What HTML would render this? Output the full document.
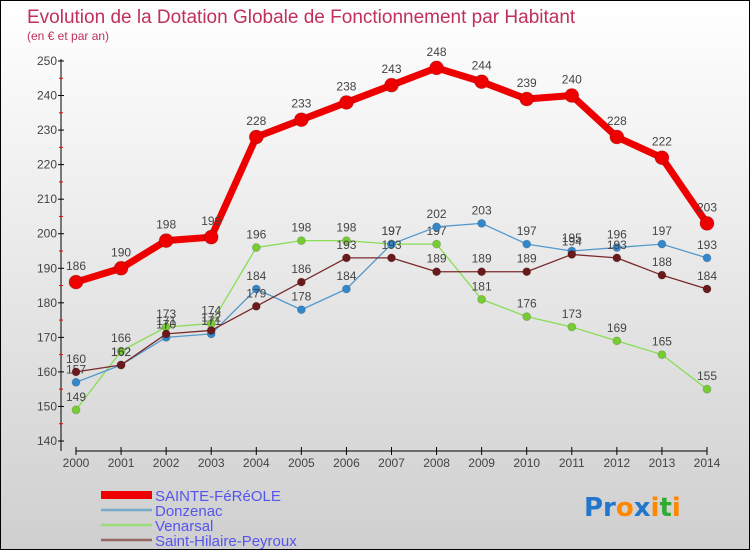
<!DOCTYPE html>
<html><head><meta charset="utf-8"><style>
html,body{margin:0;padding:0;}
body{width:750px;height:550px;overflow:hidden;font-family:"Liberation Sans",sans-serif;}
#wrap{position:relative;width:748px;height:548px;border:1px solid #000;background:linear-gradient(#ffffff 0%,#eaeaea 45%,#cfcfcf 100%);}
svg{position:absolute;left:0;top:0;}
</style></head><body>
<div id="wrap">
<svg id="chart" width="750" height="550"></svg>
</div>
<script>
const years=[2000,2001,2002,2003,2004,2005,2006,2007,2008,2009,2010,2011,2012,2013,2014];
const yTicks=[140,150,160,170,180,190,200,210,220,230,240,250];
const sainte=[186,190,198,199,228,233,238,243,248,244,239,240,228,222,203];
const donzenac=[157,162,170,171,184,178,184,197,202,203,197,195,196,197,193];
const venarsal=[149,166,173,174,196,198,198,197,197,181,176,173,169,165,155];
const shp=[160,162,171,172,179,186,193,193,189,189,189,194,193,188,184];
const names=["SAINTE-FéRéOLE","Donzenac","Venarsal","Saint-Hilaire-Peyroux"];

const NS="http://www.w3.org/2000/svg";
const svg=document.getElementById('chart');
const X=i=>75+i*(706-75)/(years.length-1);
const Y=v=>60+(250-v)*(440-60)/(250-140);
function el(t,a,p){const e=document.createElementNS(NS,t);for(const k in a)e.setAttribute(k,a[k]);(p||svg).appendChild(e);return e;}
function txt(s,a,p){const e=el('text',a,p);e.textContent=s;return e;}

const title=txt("Evolution de la Dotation Globale de Fonctionnement par Habitant",{x:26,y:22,'font-size':19,fill:'#c0305a'});


const sub=txt("(en € et par an)",{x:26,y:39,'font-size':12,fill:'#c0305a'});



// y axis
const ya=el('g',{});


el('line',{x1:60,y1:58,x2:60,y2:450,stroke:'#000','stroke-width':1},ya);
yTicks.forEach(v=>{
  el('line',{x1:57,y1:Y(v),x2:63,y2:Y(v),stroke:'#000'},ya);
  if(v<250) el('line',{x1:58,y1:Y(v+5),x2:62,y2:Y(v+5),stroke:'#e00'},ya);
  const t=txt(String(v),{x:56,y:Y(v)+4,'font-size':12,fill:'#444','text-anchor':'end'},ya);
  
  
});
// x axis
const xa=el('g',{});


el('line',{x1:75,y1:450,x2:706,y2:450,stroke:'#000'},xa);
years.forEach((y,i)=>{
  el('line',{x1:X(i),y1:446,x2:X(i),y2:454,stroke:'#000'},xa);
  const t=txt(String(y),{x:X(i),y:466,'font-size':12,fill:'#444','text-anchor':'middle'},xa);
  
  
});

const series=[
 {d:venarsal,c:'#88dd55',fill:'#77cc33',w:1.3,r:4,name:'series-venarsal'},
 {d:donzenac,c:'#5599cc',fill:'#3388cc',w:1.3,r:4,name:'series-donzenac'},
 {d:shp,c:'#7a2a2a',fill:'#6a1a1a',w:1.3,r:4,name:'series-saint-hilaire-peyroux'},
 {d:sainte,c:'#ee0000',fill:'#ee0000',w:7,r:7,name:'series-sainte-fereole'}
];
series.forEach(s=>{
  const g=el('g',{});
  
  
  el('polyline',{points:s.d.map((v,i)=>X(i)+','+Y(v)).join(' '),fill:'none',stroke:s.c,'stroke-width':s.w,'stroke-linejoin':'round'},g);
  s.d.forEach((v,i)=>{
    const c=el('circle',{cx:X(i),cy:Y(v),r:s.r,fill:s.fill,stroke:'rgba(0,0,0,0.15)'},g);
    
    
    const t=txt(String(v),{x:X(i),y:Y(v)-(s.r+5),'font-size':12,fill:'#444','text-anchor':'middle'},g);
    
    
  });
});

// legend
const lg=el('g',{});


const lc=['#ee0000','#77aacc','#99dd77','#996666'],lw=[8,2.5,2.5,2.5];
names.forEach((n,i)=>{
  const yy=494+i*15;
  const e=el('g',{},lg);
  
  
  el('line',{x1:100,y1:yy,x2:151,y2:yy,stroke:lc[i],'stroke-width':lw[i]},e);
  txt(n,{x:154,y:yy+6,'font-size':15,fill:'#5555ee'},e);
});
// logo
const logo=el('g',{});


const lt=el('text',{x:583,y:515,'font-size':26,'font-weight':'bold','font-family':'"DejaVu Sans",sans-serif'},logo);
[['Pr','#2277cc'],['o','#ff8800'],['x','#2277cc'],['i','#ff8800'],['t','#33aa33'],['i','#ff8800']].forEach(p=>{
  const ts=document.createElementNS(NS,'tspan');ts.setAttribute('fill',p[1]);ts.textContent=p[0];lt.appendChild(ts);
});
</script>
</body></html>
